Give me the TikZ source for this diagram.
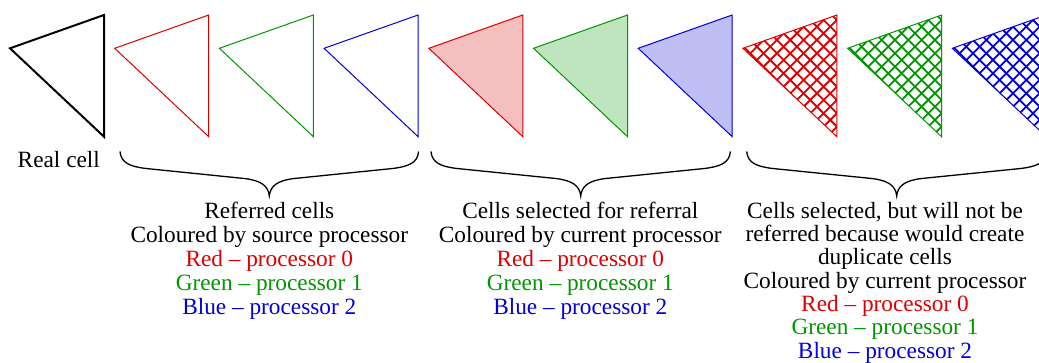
\documentclass[tikz,border=0pt]{standalone}
\usepackage{fontspec}
\setmainfont{Liberation Serif}
\definecolor{cred}{RGB}{220,0,0}
\definecolor{cgreen}{RGB}{0,150,0}
\definecolor{cblue}{RGB}{0,0,220}
\newcommand\tripath[1]{(#1,48.3) -- ++(94,-33.3) -- ++(0,121.7) -- cycle}
\newcommand\hatchtri[2]{%
  \begin{scope}
    \clip \tripath{#1};
    \foreach \k in {-12,...,14} {
      \pgfmathsetmacro\yy{20+13.333*\k}
      \draw[hatchline,#2] (#1+94-160,\yy-160) -- (#1+94+20,\yy+20);
      \draw[hatchline,#2] (#1+94-160,\yy+160) -- (#1+94+20,\yy-20);
    }
  \end{scope}
  \draw[cellline,#2] \tripath{#1};}
\newcommand\curlybrace[2]{%
  \draw[braceline] (#1,151.5) .. controls (#1+1,163) and (#1+10,166.5) .. (#1+26,168.5)
    -- (#2-25,178.5) .. controls (#2-8,180.5) and (#2-1,186) .. (#2,196)
    .. controls (#2+1,186) and (#2+8,180.5) .. (#2+25,178.5)
    -- (2*#2-#1-26,168.5) .. controls (2*#2-#1-10,166.5) and (2*#2-#1-1,163) .. (2*#2-#1,151.5);}
\begin{document}
\begin{tikzpicture}[x=1pt,y=-1pt,
  realline/.style={line width=2pt,line join=miter},
  cellline/.style={line width=1pt,line join=miter},
  hatchline/.style={line width=1.8pt},
  braceline/.style={line width=1.3pt},
  lbl/.style={font=\fontsize{23.3}{24}\selectfont,inner sep=0pt,align=center,anchor=base},
  lbl3/.style={font=\fontsize{23.3}{23.3}\selectfont,inner sep=0pt,align=center,anchor=base}]
\clip (0,0) rectangle (1039,363);
\useasboundingbox (0,0) rectangle (1039,363);
% real cell
\draw[realline] \tripath{10};
% referred cells
\draw[cellline,cred] \tripath{114.7};
\draw[cellline,cgreen] \tripath{219.4};
\draw[cellline,cblue] \tripath{324.1};
% selected cells
\draw[cellline,cred,fill=cred!25] \tripath{428.8};
\draw[cellline,cgreen,fill=cgreen!25] \tripath{533.5};
\draw[cellline,cblue,fill=cblue!25] \tripath{638.2};
% selected but duplicate
\hatchtri{742.9}{cred}
\hatchtri{847.6}{cgreen}
\hatchtri{952.3}{cblue}
% braces
\curlybrace{120}{269.3}
\curlybrace{431}{580.7}
\curlybrace{746.7}{896.7}
% texts (anchor = baseline of the last line)
\node[lbl] (real) at (58.8,168) {Real cell};
\node[lbl] (referred) at (269.3,315) {Referred cells\\Coloured by source processor\\
  \textcolor{cred}{Red -- processor 0}\\\textcolor{cgreen}{Green -- processor 1}\\\textcolor{cblue}{Blue -- processor 2}};
\node[lbl] (selected) at (580.3,315) {Cells selected for referral\\Coloured by current processor\\
  \textcolor{cred}{Red -- processor 0}\\\textcolor{cgreen}{Green -- processor 1}\\\textcolor{cblue}{Blue -- processor 2}};
\node[lbl3] (duplicate) at (885,358.1) {Cells selected, but will not be\\referred because would create\\duplicate cells\\Coloured by current processor\\
  \textcolor{cred}{Red -- processor 0}\\\textcolor{cgreen}{Green -- processor 1}\\\textcolor{cblue}{Blue -- processor 2}};
\end{tikzpicture}
\end{document}
